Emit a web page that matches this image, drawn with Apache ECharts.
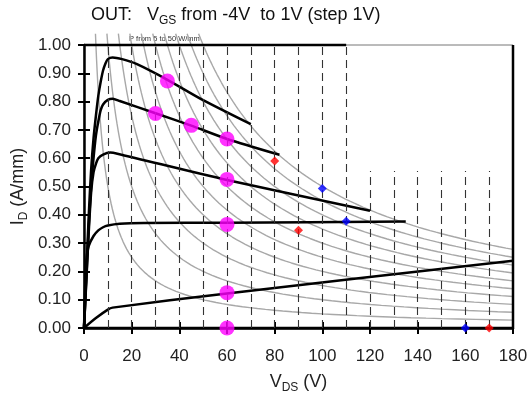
<!DOCTYPE html>
<html>
<head>
<meta charset="utf-8">
<script src="https://cdn.jsdelivr.net/npm/echarts@6/dist/echarts.min.js"></script>
<style>
html,body{margin:0;padding:0;background:#fff;}
#chart{width:528px;height:394px;}
</style>
</head>
<body>
<div id="chart"></div>
<script>
// Output characteristics, VGS from +1 V down to -4 V (step 1 V)
const curveVgsP1 = [[0,0],[1,0.2],[2,0.4],[3,0.56],[4,0.67],[5,0.75],[6,0.82],[7,0.87],[8,0.91],[9,0.935],[10,0.95],[12,0.956],[16,0.95],[22,0.933],[35,0.877],[50,0.805],[70,0.72]];
const curveVgs0 = [[0,0],[1,0.18],[2,0.36],[3,0.5],[4,0.6],[5,0.68],[6,0.73],[7,0.77],[8,0.79],[10,0.806],[12,0.81],[15,0.802],[30,0.759],[45,0.715],[60,0.668],[82,0.612]];
const curveVgsM1 = [[0,0],[1,0.17],[2,0.34],[3,0.48],[4,0.55],[5,0.58],[6,0.6],[8,0.613],[11,0.62],[14,0.616],[60,0.523],[120,0.414]];
const curveVgsM2 = [[0,0],[0.5,0.15],[1,0.24],[2,0.29],[4,0.325],[6,0.345],[8,0.356],[10,0.362],[15,0.368],[25,0.371],[60,0.372],[135,0.376]];
const curveVgsM3 = [[0,0],[5,0.035],[10,0.065],[12,0.072],[60,0.122],[180,0.238]];
const curveVgsM4 = [[0,0],[180,0]];

// Bias points along the load lines
const biasV = [35, 30, 45, 60, 60, 60, 60, 60];
const biasI = [0.873, 0.758, 0.716, 0.668, 0.525, 0.366, 0.125, 0];

// Breakdown markers
const redPts = [[80, 0.59], [90, 0.345], [170, 0]];
const bluePts = [[100, 0.493], [110, 0.377], [160, 0]];

// Constant-power contours (W/mm)
const powers = [5, 10, 15, 20, 25, 30, 35, 40, 45, 50];

// Vertical dashed guide lines
const guideX1 = [10, 20, 30, 40, 50, 60, 70, 80, 90, 100, 110];
const guideTop1 = 1.0;
const guideX2 = [120, 130, 140, 150, 160, 170];
const guideTop2 = 0.555;

const FONT = 'Liberation Sans, Arial, sans-serif';

function hyperbola(p) {
  const pts = [];
  const v0 = p / 1.04, v1 = 180;
  const n = 80;
  for (let k = 0; k <= n; k++) {
    const v = v0 * Math.pow(v1 / v0, k / n);
    pts.push([v, p / v]);
  }
  return pts;
}

// subscript style shared by the axis names and the title
function subStyle(color, isGraphic) {
  const s = { fontFamily: FONT, fontSize: 12, lineHeight: 13, padding: [11, 0, 0, 0] };
  if (isGraphic) s.fill = color; else s.color = color;
  return s;
}

const series = [];

powers.forEach(p => {
  series.push({
    type: 'line', data: hyperbola(p), showSymbol: false, clip: false,
    lineStyle: { color: '#a8a8a8', width: 1.4 }, silent: true, z: 1
  });
});

const guideSegs = [];
guideX1.forEach(x => guideSegs.push([{ coord: [x, 0] }, { coord: [x, guideTop1] }]));
guideX2.forEach(x => guideSegs.push([{ coord: [x, 0] }, { coord: [x, guideTop2] }]));
series.push({
  type: 'line', data: [], z: 2,
  markLine: {
    silent: true, symbol: ['none', 'none'], label: { show: false },
    lineStyle: { color: '#333', width: 1.1, type: [8, 5] },
    data: guideSegs
  }
});

// frame pieces
series.push({ type: 'line', data: [[0, 1], [110, 1]], showSymbol: false, clip: false,
  lineStyle: { color: '#000', width: 2.5 }, z: 3 });
series.push({ type: 'line', data: [[180, 0], [180, 1]], showSymbol: false, clip: false,
  lineStyle: { color: '#000', width: 2.5 }, z: 3 });

[curveVgsP1, curveVgs0, curveVgsM1, curveVgsM2, curveVgsM3, curveVgsM4].forEach(c => {
  series.push({
    type: 'line', data: c, showSymbol: false, smooth: 0.25, clip: false,
    lineStyle: { color: '#000', width: 2.5 }, z: 4
  });
});

series.push({
  type: 'scatter', data: biasV.map((v, i) => [v, biasI[i]]), symbol: 'circle', symbolSize: 15,
  itemStyle: { color: '#ff00ff' }, clip: false, z: 6
});
series.push({
  type: 'scatter', data: redPts, symbol: 'diamond', symbolSize: 9,
  itemStyle: { color: '#ff0000' }, clip: false, z: 6
});
series.push({
  type: 'scatter', data: bluePts, symbol: 'diamond', symbolSize: 9,
  itemStyle: { color: '#0000ff' }, clip: false, z: 6
});

const chart = echarts.init(document.getElementById('chart'), null, { renderer: 'canvas' });
chart.setOption({
  animation: false,
  backgroundColor: '#fff',
  grid: { left: 84, right: 15, top: 45, bottom: 66, show: true, borderColor: '#777', borderWidth: 1,
    containLabel: false, outerBoundsMode: 'none' },
  xAxis: [{
    type: 'value', min: 0, max: 180, interval: 20, position: 'bottom',
    name: 'V{sub|DS} (V)', nameLocation: 'middle', nameGap: 42, nameMoveOverlap: false,
    nameTextStyle: { fontFamily: FONT, fontSize: 18, color: '#222', lineHeight: 24,
      rich: { sub: subStyle('#222', false) } },
    axisLine: { lineStyle: { color: '#000', width: 2.5 } },
    axisTick: { length: 6, lineStyle: { color: '#000', width: 2 } },
    axisLabel: { fontFamily: FONT, fontSize: 17, color: '#222', margin: 20 },
    splitLine: { show: false }
  }, {
    type: 'value', min: 0, max: 180, interval: 20, position: 'bottom',
    axisLine: { show: false },
    axisTick: { inside: true, length: 6, lineStyle: { color: '#000', width: 2 } },
    axisLabel: { show: false }, splitLine: { show: false }
  }],
  yAxis: [{
    type: 'value', min: 0, max: 1, interval: 0.1, position: 'left',
    name: 'I{sub|D} (A/mm)', nameLocation: 'middle', nameGap: 54, nameRotate: 90, nameMoveOverlap: false,
    nameTextStyle: { fontFamily: FONT, fontSize: 18, color: '#222', lineHeight: 24,
      rich: { sub: subStyle('#222', false) } },
    axisLine: { lineStyle: { color: '#000', width: 2.5 } },
    axisTick: { length: 6, lineStyle: { color: '#000', width: 2 } },
    axisLabel: { fontFamily: FONT, fontSize: 17, color: '#222', margin: 13,
      formatter: v => v.toFixed(2) },
    splitLine: { show: false }
  }, {
    type: 'value', min: 0, max: 1, interval: 0.1, position: 'left',
    axisLine: { show: false },
    axisTick: { inside: true, length: 6, lineStyle: { color: '#000', width: 2 } },
    axisLabel: { show: false }, splitLine: { show: false }
  }],
  graphic: [{
    type: 'text', left: 91, top: 3,
    style: {
      text: 'OUT:   V{sub|GS} from -4V  to 1V (step 1V)',
      fontFamily: FONT, fontSize: 18, fill: '#111', lineHeight: 24,
      rich: { sub: subStyle('#111', true) }
    }
  }, {
    type: 'text', left: 129, top: 35,
    style: { text: 'P from 5 to 50 W/mm', fontFamily: FONT, fontSize: 7.5, fill: '#333' }
  }],
  series: series
});
</script>
</body>
</html>
